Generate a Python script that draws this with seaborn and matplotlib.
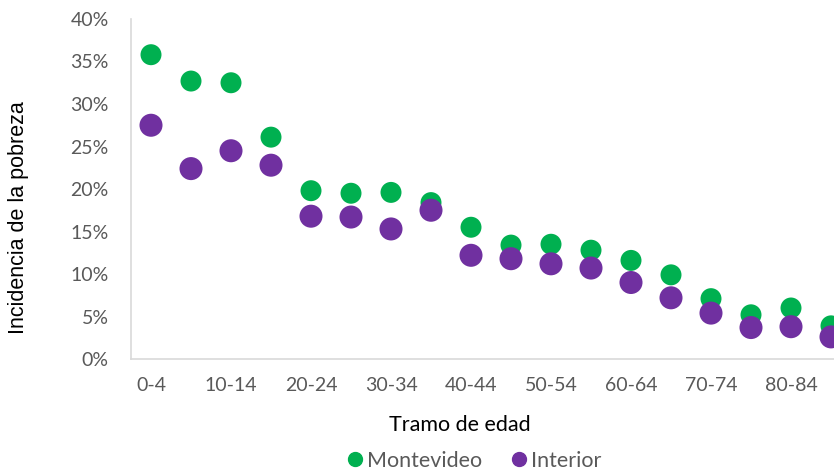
import numpy as np
import pandas as pd
import seaborn as sns
import matplotlib.pyplot as plt
from matplotlib.lines import Line2D
from matplotlib.ticker import PercentFormatter

tramos = ["0-4", "5-9", "10-14", "15-19", "20-24", "25-29", "30-34", "35-39", "40-44",
          "45-49", "50-54", "55-59", "60-64", "65-69", "70-74", "75-79", "80-84", "85+"]
montevideo = [35.8, 32.7, 32.5, 26.1, 19.8, 19.5, 19.6, 18.4, 15.5,
              13.4, 13.5, 12.8, 11.6, 9.9, 7.1, 5.2, 6.0, 3.9]
interior = [27.5, 22.4, 24.5, 22.8, 16.8, 16.7, 15.3, 17.5, 12.2,
            11.8, 11.2, 10.7, 9.0, 7.2, 5.4, 3.7, 3.8, 2.6]
series = ["Montevideo", "Interior"]
colores = {"Montevideo": "#00B050", "Interior": "#7030A0"}

df = pd.DataFrame({
    "tramo": tramos * 2,
    "valor": montevideo + interior,
    "serie": ["Montevideo"] * len(tramos) + ["Interior"] * len(tramos),
})

sns.set_style("white")
plt.rcParams['font.family'] = ['Lato', 'DejaVu Sans']

fig = plt.figure(figsize=(8.34, 4.73), dpi=100)
ax = fig.add_axes([131 / 834, 1 - 359 / 473, 1 - 131 / 834, 340 / 473])

sns.scatterplot(data=df, x="tramo", y="valor", hue="serie", palette=colores,
                size="serie", sizes={"Montevideo": 228, "Interior": 275},
                linewidth=0, legend=False, ax=ax)

ax.set_xlim(-0.5, (834 - 131) / 40 - 0.5)
ax.set_ylim(0, 40)
ax.set_yticks(np.arange(0, 41, 5))
ax.yaxis.set_major_formatter(PercentFormatter(decimals=0))
ax.set_xticks(range(0, len(tramos), 2))
ax.set_xticklabels(tramos[::2])
ax.tick_params(axis="both", length=0, labelsize=14, labelcolor="#595959")
ax.tick_params(axis="x", pad=13)
ax.tick_params(axis="y", pad=16)

for s in ["top", "right"]:
    ax.spines[s].set_visible(False)
for s in ["left", "bottom"]:
    ax.spines[s].set_color("#D9D9D9")
    ax.spines[s].set_linewidth(1.2)

ax.set_xlabel("")
ax.set_ylabel("")
fig.text(460 / 834, 1 - 425 / 473, "Tramo de edad", ha="center", va="center", fontsize=15.5, color="black")
fig.text(19 / 834, 1 - 218 / 473, "Incidencia de la pobreza", ha="center", va="center",
         rotation=90, fontsize=15.5, color="black", family="Liberation Sans")

handles = [Line2D([], [], marker="o", linestyle="", markersize=10, color=colores[s]) for s in series]
fig.legend(handles, series, loc="center", bbox_to_anchor=(473 / 834, 1 - 461 / 473), ncol=2,
           frameon=False, fontsize=15.5, labelcolor="#595959", handletextpad=0.05, columnspacing=1.2,
           handlelength=1.0)

plt.savefig("out.png", dpi=100)
